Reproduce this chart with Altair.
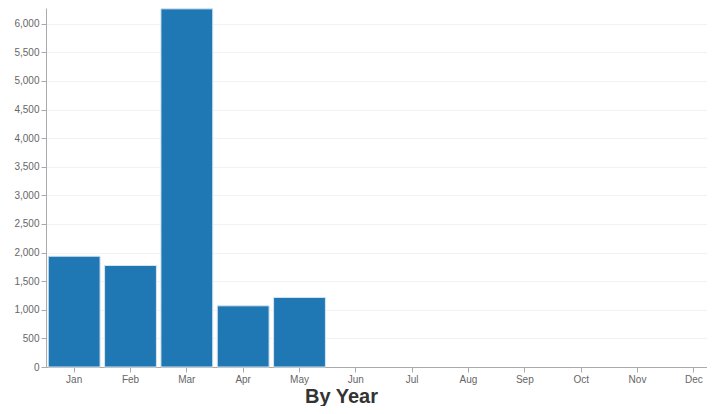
import altair as alt
import pandas as pd

months = ["Jan", "Feb", "Mar", "Apr", "May", "Jun",
          "Jul", "Aug", "Sep", "Oct", "Nov", "Dec"]
values = [1936, 1774, 6260, 1069, 1216, None, None, None, None, None, None, None]
y_ticks = [0, 500, 1000, 1500, 2000, 2500, 3000, 3500, 4000, 4500, 5000, 5500, 6000]

df = pd.DataFrame({"month": months, "value": values})

chart = alt.Chart(df).mark_bar(
    color="#1f77b4", stroke="#d6e4f0", strokeWidth=1
).encode(
    x=alt.X("month:N", sort=months,
            scale=alt.Scale(domain=months, range=[0, 676],
                            paddingInner=0.08, paddingOuter=0.04),
            axis=alt.Axis(title="By Year", labelAngle=0, titleX=295, titleY=35,
                          titleAlign="center", titleBaseline="alphabetic",
                          titleFontSize=20, titleFontWeight="bold", titleColor="#333",
                          titleFont="Liberation Sans")),
    y=alt.Y("value:Q", scale=alt.Scale(domain=[0, 6275], nice=False),
            axis=alt.Axis(title=None, values=y_ticks, format=",.0f", grid=True)),
).properties(
    width=661, height=359,
    autosize=alt.AutoSizeParams(type="none"),
    padding={"left": 38, "top": 0, "right": 0, "bottom": 39},
).configure_axis(
    labelFont="Liberation Sans", labelFontSize=10, labelColor="#666",
    domainColor="#aaa", tickColor="#aaa", gridColor="#f2f2f2",
).configure_axisX(grid=False).configure_view(stroke=None)

chart.save("out.html", embed_options={"renderer": "svg", "actions": False})
